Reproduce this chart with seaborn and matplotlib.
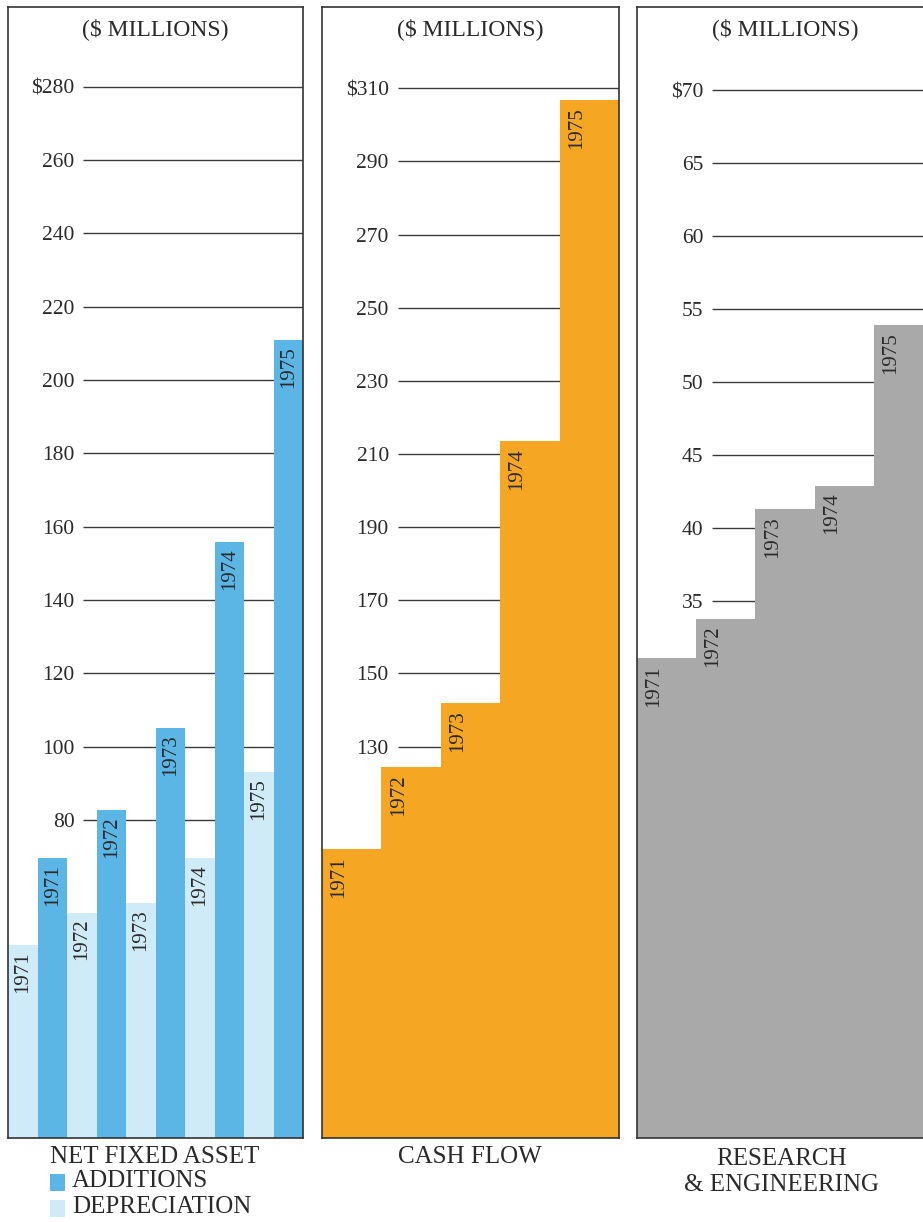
import matplotlib
matplotlib.use("Agg")
import matplotlib.pyplot as plt
from matplotlib.patches import Rectangle
import seaborn as sns
import pandas as pd

# ---------------- data ----------------
years = ["1971", "1972", "1973", "1974", "1975"]
additions = [69.5, 82.6, 105.2, 155.9, 211.0]
depreciation = [45.9, 54.7, 57.4, 69.5, 93.1]
cash_flow = [101.9, 124.4, 141.8, 213.6, 306.8]
research = [31.1, 33.8, 41.3, 42.9, 53.9]

p1_ticks = [80, 100, 120, 140, 160, 180, 200, 220, 240, 260, 280]
p2_ticks = [130, 150, 170, 190, 210, 230, 250, 270, 290, 310]
p3_ticks = [35, 40, 45, 50, 55, 60, 65, 70]

unit_label = "($ MILLIONS)"
p1_title = "NET FIXED ASSET"
p1_series = ["DEPRECIATION", "ADDITIONS"]
p2_title = "CASH FLOW"
p3_title = "RESEARCH\n& ENGINEERING"

# ---------------- style ----------------
sns.set_theme(style="white")
plt.rcParams["font.family"] = ["Liberation Serif", "DejaVu Serif"]

C_ADD = "#5bb6e6"
C_DEP = "#d0ebf8"
C_CASH = "#f5a622"
C_RES = "#a9a9a9"
TXT = "#2a2a2a"
LINE = "#3a3a3a"

W, H = 923, 1223
fig = plt.figure(figsize=(W / 100, H / 100), dpi=100)
fig.patch.set_facecolor("white")

bot = 1 - 1138 / H
hgt = (1138 - 7) / H

ax1 = fig.add_axes([8 / W, bot, 295 / W, hgt])
ax2 = fig.add_axes([322 / W, bot, 297 / W, hgt])
ax3 = fig.add_axes([637 / W, bot, 296 / W, hgt])

limits = {ax1: (-6.8, 301.8), ax2: (23.0, 332.2), ax3: (-1.78, 75.7)}

# panel 1: grouped bars
df1 = pd.DataFrame({
    "year": years * 2,
    "series": [p1_series[0]] * len(years) + [p1_series[1]] * len(years),
    "value": depreciation + additions,
})
sns.barplot(data=df1, x="year", y="value", hue="series", hue_order=p1_series,
            palette=[C_DEP, C_ADD], width=1.0, gap=0, dodge=True, saturation=1,
            errorbar=None, legend=False, linewidth=0, ax=ax1)

sns.barplot(x=years, y=cash_flow, color=C_CASH, width=1.0, saturation=1,
            errorbar=None, linewidth=0, ax=ax2)
sns.barplot(x=years, y=research, color=C_RES, width=1.0, saturation=1,
            errorbar=None, linewidth=0, ax=ax3)


def finish(ax, ticks, label_mode):
    ylo, yhi = limits[ax]
    ax.set_ylim(ylo, yhi)
    ax.set_xlim(-0.5, 4.5)
    # extend bars down to the frame
    for p in ax.patches:
        top = p.get_y() + p.get_height()
        p.set_y(ylo)
        p.set_height(top - ylo)
        p.set_zorder(2)
        x0 = p.get_x()
        xc = x0 + p.get_width() / 2
        idx = int(round(xc))
        if label_mode == "center":
            ax.annotate(years[idx], (xc, top), xytext=(0, -4.5),
                        textcoords="offset points", rotation=90,
                        ha="center", va="top", fontsize=15, color=TXT, zorder=3)
        else:
            ax.annotate(years[idx], (x0, top), xytext=(12.2, -5),
                        textcoords="offset points", rotation=90,
                        ha="center", va="top", fontsize=15, color=TXT, zorder=3)
    tr = ax.get_yaxis_transform()
    ax.hlines(ticks, 0.255, 1.0, transform=tr, color=LINE, linewidth=1.0, zorder=1)
    for i, t in enumerate(ticks):
        lab = ("$" + str(t)) if t == ticks[-1] else str(t)
        ax.text(0.225, t, lab, transform=tr, ha="right", va="center_baseline",
                fontsize=15.5, color=TXT, zorder=3)
    ax.text(0.5, 1 - 22 / 1131, unit_label, transform=ax.transAxes, ha="center",
            va="center", fontsize=17, color=TXT)
    ax.set_xticks([])
    ax.set_yticks([])
    ax.set_xlabel("")
    ax.set_ylabel("")
    for s in ax.spines.values():
        s.set_visible(True)
        s.set_color("#333333")
        s.set_linewidth(1.2)
        s.set_zorder(4)


finish(ax1, p1_ticks, "center")
finish(ax2, p2_ticks, "left")
finish(ax3, p3_ticks, "left")

# bottom captions
def fy(py):
    return 1 - py / H

fig.text(155 / W, fy(1157), p1_title, ha="center", va="center", fontsize=18, color=TXT)
fig.add_artist(Rectangle((50 / W, fy(1191)), 15 / W, 17 / H, transform=fig.transFigure,
                         facecolor=C_ADD, edgecolor="none"))
fig.text(72 / W, fy(1181), p1_series[1], ha="left", va="center", fontsize=18, color=TXT)
fig.add_artist(Rectangle((50 / W, fy(1217)), 15 / W, 17 / H, transform=fig.transFigure,
                         facecolor=C_DEP, edgecolor="none"))
fig.text(72 / W, fy(1207), p1_series[0], ha="left", va="center", fontsize=18, color=TXT)

fig.text(470 / W, fy(1157), p2_title, ha="center", va="center", fontsize=18, color=TXT)
fig.text(782 / W, fy(1172), p3_title, ha="center", va="center", fontsize=18,
         color=TXT, linespacing=1.25)

fig.savefig("out.png", dpi=100)
